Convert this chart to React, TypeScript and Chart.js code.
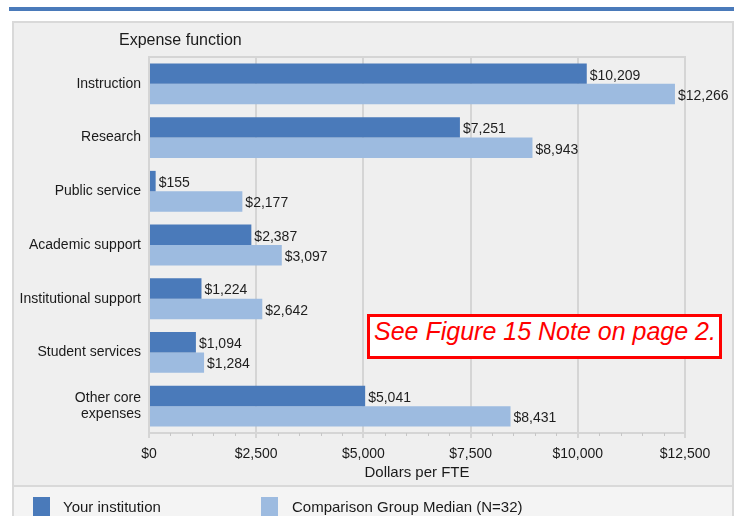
import React, { useEffect, useRef } from "react";
import { Chart, registerables } from "chart.js";

Chart.register(...registerables);

const categories: (string | string[])[] = [
  "Instruction",
  "Research",
  "Public service",
  "Academic support",
  "Institutional support",
  "Student services",
  ["Other core", "expenses"],
];
const yourInstitution = [10209, 7251, 155, 2387, 1224, 1094, 5041];
const comparisonMedian = [12266, 8943, 2177, 3097, 2642, 1284, 8431];
const seriesNames = ["Your institution", "Comparison Group Median (N=32)"];
const xMin = 0;
const xMax = 12500;
const xStep = 2500;
const minorStep = 500;

const DARK = "#4a7aba";
const LIGHT = "#9dbbe0";
const GRID = "#d5d5d5";
const FONT = "'Liberation Sans', Arial, sans-serif";

const fmt = (v: number) => "$" + v.toLocaleString("en-US");

const extrasPlugin = {
  id: "extras",
  afterDraw(chart: any) {
    const { ctx, chartArea } = chart;
    const xs = chart.scales.x;
    ctx.save();
    // plot box outline
    ctx.strokeStyle = GRID;
    ctx.lineWidth = 2;
    ctx.beginPath();
    ctx.moveTo(chartArea.left, chartArea.top);
    ctx.lineTo(chartArea.right, chartArea.top);
    ctx.lineTo(chartArea.right, chartArea.bottom);
    ctx.stroke();
    // minor ticks
    ctx.strokeStyle = "#c6c6c6";
    ctx.lineWidth = 1;
    for (let v = xMin + minorStep; v < xMax; v += minorStep) {
      if (v % xStep === 0) continue;
      const px = Math.round(xs.getPixelForValue(v)) + 0.5;
      ctx.beginPath();
      ctx.moveTo(px, chartArea.bottom);
      ctx.lineTo(px, chartArea.bottom + 3);
      ctx.stroke();
    }
    // value labels
    ctx.fillStyle = "#1e1e1e";
    ctx.font = `14px ${FONT}`;
    ctx.textAlign = "left";
    ctx.textBaseline = "middle";
    chart.data.datasets.forEach((ds: any, di: number) => {
      const meta = chart.getDatasetMeta(di);
      meta.data.forEach((el: any, i: number) => {
        ctx.fillText(fmt(ds.data[i]), el.x + 3, el.y + 2);
      });
    });
    // y axis heading
    ctx.fillStyle = "#1a1a1a";
    ctx.font = `16px ${FONT}`;
    ctx.fillText("Expense function", 119, 41);
    // legend
    const legendY = 507;
    const items = [
      { x: 33, tx: 63 },
      { x: 261, tx: 292 },
    ];
    chart.data.datasets.forEach((ds: any, di: number) => {
      const it = items[di];
      ctx.fillStyle = ds.backgroundColor;
      ctx.fillRect(it.x, 497, 17, 19);
      ctx.fillStyle = "#1a1a1a";
      ctx.font = `15px ${FONT}`;
      ctx.fillText(ds.label, it.tx, legendY + 1);
    });
    ctx.restore();
  },
};

export default function App() {
  const ref = useRef<HTMLCanvasElement | null>(null);
  useEffect(() => {
    document.body.style.margin = "0";
    if (!ref.current) return;
    const chart = new Chart(ref.current, {
      type: "bar",
      data: {
        labels: categories as any,
        datasets: [
          {
            label: seriesNames[0],
            data: yourInstitution,
            backgroundColor: DARK,
            categoryPercentage: 0.76,
            barPercentage: 1,
          },
          {
            label: seriesNames[1],
            data: comparisonMedian,
            backgroundColor: LIGHT,
            categoryPercentage: 0.76,
            barPercentage: 1,
          },
        ],
      },
      options: {
        indexAxis: "y",
        animation: false,
        responsive: false,
        maintainAspectRatio: false,
        layout: { padding: { top: 57, right: 49, bottom: 30, left: 0 } },
        plugins: {
          legend: { display: false },
          tooltip: { enabled: false },
        },
        scales: {
          x: {
            type: "linear",
            min: xMin,
            max: xMax,
            afterFit: (s: any) => {
              s.height = 53;
            },
            ticks: {
              stepSize: xStep,
              padding: 8,
              color: "#1a1a1a",
              font: { size: 14, family: FONT },
              callback: (v: any) => fmt(Number(v)),
            },
            grid: { color: GRID, lineWidth: 2, tickLength: 5 },
            border: { display: true, color: GRID, width: 2 },
            title: {
              display: true,
              text: "Dollars per FTE",
              color: "#1a1a1a",
              font: { size: 15, family: FONT },
              padding: { top: 0, bottom: 4 },
            },
          },
          y: {
            type: "category",
            afterFit: (s: any) => {
              s.width = 149;
            },
            ticks: {
              padding: 8,
              color: "#1a1a1a",
              font: { size: 14, family: FONT },
            },
            grid: { display: false, drawTicks: false },
            border: { display: true, color: GRID, width: 2 },
          },
        },
      },
      plugins: [extrasPlugin],
    });
    return () => chart.destroy();
  }, []);

  return (
    <div style={{ position: "relative", width: 734, height: 516, overflow: "hidden", background: "#ffffff" }}>
      <div style={{ position: "absolute", left: 9, top: 7, width: 725, height: 4, background: DARK }} />
      <div
        style={{
          position: "absolute",
          left: 12,
          top: 21,
          width: 718,
          height: 520,
          background: "#efefef",
          border: "2px solid #d9d9d9",
        }}
      />
      <div
        style={{
          position: "absolute",
          left: 14,
          top: 485,
          width: 718,
          height: 40,
          background: "#f4f4f4",
          borderTop: "2px solid #d9d9d9",
        }}
      />
      <canvas
        ref={ref}
        width={734}
        height={516}
        style={{ position: "absolute", left: 0, top: 0, width: 734, height: 516 }}
      />
      <div
        style={{
          position: "absolute",
          left: 367,
          top: 314,
          width: 345,
          height: 39,
          border: "3px solid #ff0000",
          background: "#ffffff",
          color: "#ff0000",
          fontFamily: FONT,
          fontStyle: "italic",
          fontSize: 25,
          lineHeight: "28px",
          paddingLeft: 4,
          whiteSpace: "nowrap",
        }}
      >
        See Figure 15 Note on page 2.
      </div>
    </div>
  );
}
